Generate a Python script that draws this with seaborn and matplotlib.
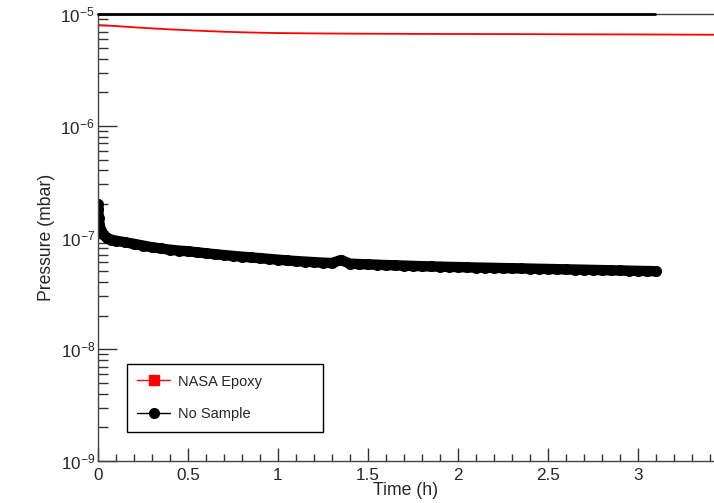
import numpy as np
import pandas as pd
import matplotlib
matplotlib.use("Agg")
import matplotlib.pyplot as plt
import matplotlib.ticker as mticker
from matplotlib.lines import Line2D
import seaborn as sns

# --- Data ---
epoxy_time = [0.0, 0.1, 0.2, 0.3, 0.4, 0.5, 0.6, 0.7, 0.8, 0.9, 1.0, 1.2, 1.4,
              1.6, 1.8, 2.0, 2.2, 2.4, 2.6, 2.8, 3.0, 3.2, 3.4, 3.5]
epoxy_pressure = [8.0e-6, 7.85e-6, 7.65e-6, 7.48e-6, 7.33e-6, 7.2e-6, 7.08e-6,
                  6.98e-6, 6.9e-6, 6.84e-6, 6.79e-6, 6.74e-6, 6.71e-6, 6.69e-6,
                  6.67e-6, 6.66e-6, 6.65e-6, 6.64e-6, 6.62e-6, 6.61e-6, 6.6e-6,
                  6.58e-6, 6.56e-6, 6.55e-6]

blank_time = [0.0, 0.003, 0.006, 0.01, 0.02, 0.035, 0.05, 0.075, 0.1, 0.15,
              0.2, 0.25, 0.3, 0.35, 0.4, 0.45, 0.5, 0.55, 0.6, 0.65, 0.7, 0.75,
              0.8, 0.85, 0.9, 0.95, 1.0, 1.05, 1.1, 1.15, 1.2, 1.25, 1.3, 1.35,
              1.4, 1.45, 1.5, 1.55, 1.6, 1.65, 1.7, 1.75, 1.8, 1.85, 1.9, 1.95,
              2.0, 2.05, 2.1, 2.15, 2.2, 2.25, 2.3, 2.35, 2.4, 2.45, 2.5, 2.55,
              2.6, 2.65, 2.7, 2.75, 2.8, 2.85, 2.9, 2.95, 3.0, 3.05, 3.1]
blank_pressure = [2.0e-7, 1.8e-7, 1.5e-7, 1.3e-7, 1.15e-7, 1.05e-7, 1.0e-7,
                  9.6e-8, 9.4e-8, 9.1e-8, 8.8e-8, 8.5e-8, 8.2e-8, 8.0e-8,
                  7.8e-8, 7.65e-8, 7.55e-8, 7.4e-8, 7.25e-8, 7.1e-8, 6.98e-8,
                  6.86e-8, 6.75e-8, 6.65e-8, 6.55e-8, 6.45e-8, 6.35e-8, 6.25e-8,
                  6.17e-8, 6.1e-8, 6.03e-8, 5.97e-8, 5.92e-8, 6.3e-8, 5.85e-8,
                  5.8e-8, 5.76e-8, 5.72e-8, 5.68e-8, 5.65e-8, 5.62e-8, 5.58e-8,
                  5.55e-8, 5.52e-8, 5.5e-8, 5.47e-8, 5.45e-8, 5.42e-8, 5.4e-8,
                  5.38e-8, 5.36e-8, 5.34e-8, 5.32e-8, 5.3e-8, 5.28e-8, 5.26e-8,
                  5.24e-8, 5.22e-8, 5.2e-8, 5.18e-8, 5.16e-8, 5.14e-8, 5.12e-8,
                  5.1e-8, 5.08e-8, 5.06e-8, 5.04e-8, 5.02e-8, 5.0e-8]

# upper black trace running along the top of the frame
limit_time = [0.0, 3.09]
limit_pressure = [1e-5, 1e-5]

series_labels = ["NASA Epoxy", "No Sample"]
y_major_ticks = [1e-9, 1e-8, 1e-7, 1e-6, 1e-5]

# --- Style ---
sns.set_theme(style="ticks")
plt.rcParams['font.family'] = ['Liberation Sans', 'DejaVu Sans']
plt.rcParams['mathtext.fontset'] = 'custom'
plt.rcParams['mathtext.rm'] = 'Liberation Sans'
plt.rcParams['mathtext.it'] = 'Liberation Sans:italic'

fig = plt.figure(figsize=(7.14, 5.03), dpi=100)
ax = fig.add_axes([0.1368, 0.0835, 0.8632, 0.8881])

df_epoxy = pd.DataFrame({"time": epoxy_time, "pressure": epoxy_pressure})
df_blank = pd.DataFrame({"time": blank_time, "pressure": blank_pressure})

sns.lineplot(data=df_epoxy, x="time", y="pressure", ax=ax, color="red",
             linewidth=1.3, estimator=None, sort=True)
# dense marker trace: thick line under the circles so it reads as a band
sns.lineplot(data=df_blank, x="time", y="pressure", ax=ax, color="black",
             linewidth=7.5, marker="o", markersize=8, markeredgewidth=0,
             estimator=None, sort=True, solid_capstyle="round")
ax.plot(limit_time, limit_pressure, color="black", linewidth=2, clip_on=False,
        zorder=5)

ax.set_yscale("log")
ax.set_xlim(0, 3.42)
ax.set_ylim(1e-9, 1e-5)

ax.xaxis.set_major_locator(mticker.MultipleLocator(0.5))
ax.xaxis.set_minor_locator(mticker.MultipleLocator(0.1))
ax.xaxis.set_major_formatter(mticker.FuncFormatter(lambda v, p: f"{v:g}"))
ax.yaxis.set_major_locator(mticker.FixedLocator(y_major_ticks))
ax.yaxis.set_major_formatter(mticker.LogFormatterSciNotation())
ax.yaxis.set_minor_locator(mticker.LogLocator(base=10, subs=np.arange(2, 10),
                                              numticks=20))
ax.yaxis.set_minor_formatter(mticker.NullFormatter())

ax.tick_params(axis="x", which="major", direction="in", length=9.5, width=1,
               labelsize=12.3, pad=5, color="#333333")
ax.tick_params(axis="x", which="minor", direction="in", length=4.8, width=1,
               color="#333333")
ax.tick_params(axis="y", which="major", direction="in", length=13.5, width=1,
               labelsize=12.3, pad=2, color="#333333")
ax.tick_params(axis="y", which="minor", direction="in", length=7.5, width=1,
               color="#333333")

for side in ["left", "bottom", "top"]:
    ax.spines[side].set_color("#444444")
    ax.spines[side].set_linewidth(1)
ax.spines["right"].set_visible(False)

ax.set_xlabel("Time (h)", fontsize=12.7, labelpad=-1)
ax.set_ylabel("Pressure (mbar)", fontsize=12.7, labelpad=4)

handles = [
    Line2D([], [], color="red", linewidth=1, marker="s", markersize=7),
    Line2D([], [], color="black", linewidth=1, marker="o", markersize=7),
]
leg = fig.legend(handles, series_labels, loc="upper left",
                 bbox_to_anchor=(126.7 / 714, 1 - 431.7 / 503, 196.6 / 714, 67.4 / 503),
                 mode="expand", borderaxespad=0, fontsize=10.5,
                 frameon=True, fancybox=False, framealpha=1,
                 handlelength=2.3, handletextpad=0.5, labelspacing=1.3,
                 borderpad=0.7)
leg.get_frame().set_edgecolor("black")
leg.get_frame().set_linewidth(1)

fig.savefig("out.png", dpi=100)
